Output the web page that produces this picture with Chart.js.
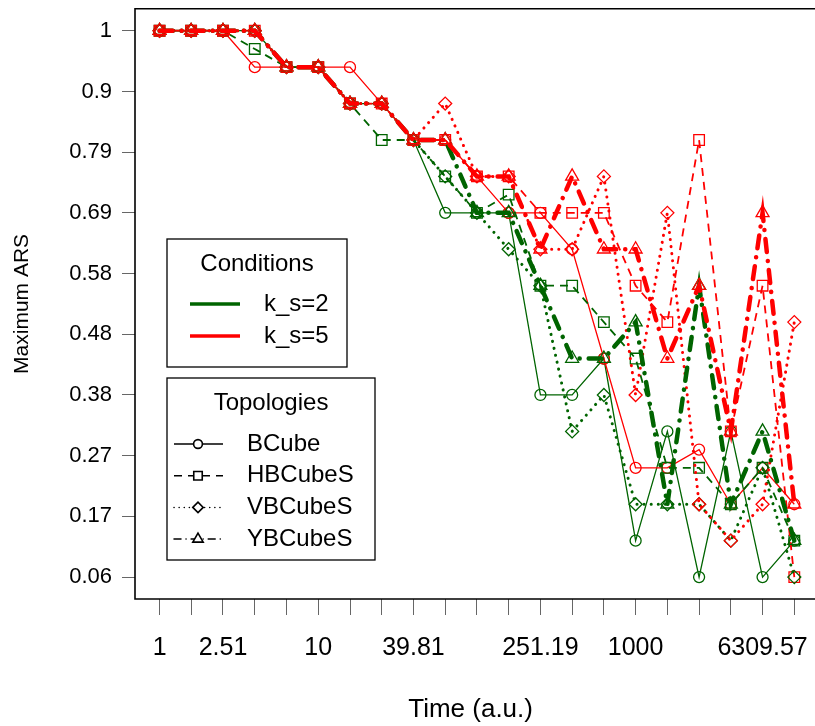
<!DOCTYPE html>
<html>
<head>
<meta charset="utf-8">
<script src="https://cdn.jsdelivr.net/npm/chart.js@4.4.0/dist/chart.umd.min.js"></script>
<style>
  body { margin: 0; background: #fff; }
  canvas { display: block; }
</style>
</head>
<body>
<canvas id="ars" width="815" height="726"></canvas>
<script>
// time points (log spaced, 10^(0.2k)) and the labels R kept on the axis
const times = [1, 1.58, 2.51, 3.98, 6.31, 10, 15.85, 25.12, 39.81, 63.1, 100,
  158.49, 251.19, 398.11, 630.96, 1000, 1584.89, 2511.89, 3981.07, 6309.57, 10000];
const timeLabels = ["1", "", "2.51", "", "", "10", "", "", "39.81", "", "", "",
  "251.19", "", "", "1000", "", "", "", "6309.57", ""];

const arsTicks = [0.0625, 0.1667, 0.2708, 0.375, 0.4792, 0.5833, 0.6875, 0.7917, 0.8958, 1];
const arsLabels = ["0.06", "0.17", "0.27", "0.38", "0.48", "0.58", "0.69", "0.79", "0.9", "1"];

// k_s=2
const ks2BCube = [1, 1, 1, 1, 0.9375, 0.9375, 0.875, 0.875, 0.8125, 0.6875, 0.6875,
  0.6875, 0.375, 0.375, 0.4375, 0.125, 0.3125, 0.0625, 0.3125, 0.0625, 0.125];
const ks2HBCubeS = [1, 1, 1, 0.96875, 0.9375, 0.9375, 0.875, 0.8125, 0.8125, 0.75, 0.6875,
  0.71875, 0.5625, 0.5625, 0.5, 0.4375, 0.25, 0.25, 0.1875, 0.25, 0.125];
const ks2VBCubeS = [1, 1, 1, 1, 0.9375, 0.9375, 0.875, 0.875, 0.8125, 0.75, 0.6875,
  0.625, 0.5625, 0.3125, 0.375, 0.1875, 0.1875, 0.1875, 0.125, 0.25, 0.0625];
const ks2YBCubeS = [1, 1, 1, 1, 0.9375, 0.9375, 0.875, 0.875, 0.8125, 0.8125, 0.6875,
  0.6875, 0.5625, 0.4375, 0.4375, 0.5, 0.1875, 0.5625, 0.1875, 0.3125, 0.125];

// k_s=5
const ks5BCube = [1, 1, 1, 0.9375, 0.9375, 0.9375, 0.9375, 0.875, 0.8125, 0.8125, 0.75,
  0.6875, 0.6875, 0.625, 0.4375, 0.25, 0.25, 0.28125, 0.1875, 0.25, 0.1875];
const ks5HBCubeS = [1, 1, 1, 1, 0.9375, 0.9375, 0.875, 0.875, 0.8125, 0.8125, 0.75,
  0.75, 0.6875, 0.6875, 0.6875, 0.5625, 0.5, 0.8125, 0.3125, 0.5625, 0.0625];
const ks5VBCubeS = [1, 1, 1, 1, 0.9375, 0.9375, 0.875, 0.875, 0.8125, 0.875, 0.75,
  0.75, 0.625, 0.625, 0.75, 0.375, 0.6875, 0.1875, 0.125, 0.1875, 0.5];
const ks5YBCubeS = [1, 1, 1, 1, 0.9375, 0.9375, 0.875, 0.875, 0.8125, 0.8125, 0.75,
  0.75, 0.625, 0.75, 0.625, 0.625, 0.4375, 0.5625, 0.3125, 0.6875, 0.1875];

const GREEN = "#006400";
const RED = "#ff0000";
const FONT = "'Liberation Sans', Arial, sans-serif";

const topo = {
  BCube:   { pointStyle: "circle",   radius: 5.5, dash: [],              width: 1.3, cap: "butt",  key: [] },
  HBCubeS: { pointStyle: "rect",     radius: 7.5, dash: [8, 6],          width: 1.8, cap: "butt",  key: [8, 6] },
  VBCubeS: { pointStyle: "rectRot",  radius: 6.5, dash: [0.1, 7],        width: 3,   cap: "round", key: [0.1, 5] },
  YBCubeS: { pointStyle: "triangle", radius: 7.5, dash: [13, 9, 0.1, 9], width: 4.5, cap: "round", key: [7, 5, 0.1, 5] },
};

// drawn in this sequence, last one on top
const series = [
  ["BCube", GREEN, ks2BCube], ["BCube", RED, ks5BCube],
  ["HBCubeS", GREEN, ks2HBCubeS], ["HBCubeS", RED, ks5HBCubeS],
  ["VBCubeS", GREEN, ks2VBCubeS], ["VBCubeS", RED, ks5VBCubeS],
  ["YBCubeS", GREEN, ks2YBCubeS], ["YBCubeS", RED, ks5YBCubeS],
];

const datasets = series.map(([name, color, values], i) => {
  const s = topo[name];
  return {
    label: name + (color === GREEN ? " k_s=2" : " k_s=5"),
    data: times.map((t, j) => ({ x: t, y: values[j] })),
    borderColor: color,
    borderWidth: s.width,
    borderDash: s.dash,
    borderCapStyle: s.cap,
    tension: 0,
    fill: false,
    pointStyle: s.pointStyle,
    pointRadius: s.radius,
    pointBorderWidth: 1.3,
    pointBorderColor: color,
    pointBackgroundColor: "rgba(0,0,0,0)",
    order: series.length - i,
  };
});

const frameAndLegends = {
  id: "frameAndLegends",
  afterDraw(chart) {
    const { ctx, chartArea: a } = chart;
    ctx.save();
    ctx.strokeStyle = "#000";
    ctx.lineWidth = 1.6;
    ctx.beginPath();
    ctx.moveTo(a.right + 10, a.top);
    ctx.lineTo(a.left, a.top);
    ctx.lineTo(a.left, a.bottom);
    ctx.lineTo(a.right + 10, a.bottom);
    ctx.stroke();

    // Conditions box
    ctx.fillStyle = "#fff";
    ctx.lineWidth = 1.3;
    ctx.fillRect(167, 239, 180, 128);
    ctx.strokeRect(167, 239, 180, 128);
    ctx.fillStyle = "#000";
    ctx.font = "24px " + FONT;
    ctx.textBaseline = "middle";
    ctx.textAlign = "center";
    ctx.fillText("Conditions", 257, 264);
    ctx.textAlign = "left";
    [[GREEN, "k_s=2", 304], [RED, "k_s=5", 336]].forEach(([c, t, y]) => {
      ctx.strokeStyle = c;
      ctx.lineWidth = 3.5;
      ctx.beginPath();
      ctx.moveTo(190, y);
      ctx.lineTo(240, y);
      ctx.stroke();
      ctx.fillText(t, 264, y);
    });

    // Topologies box
    ctx.fillStyle = "#fff";
    ctx.strokeStyle = "#000";
    ctx.lineWidth = 1.3;
    ctx.fillRect(167, 378, 208, 182);
    ctx.strokeRect(167, 378, 208, 182);
    ctx.fillStyle = "#000";
    ctx.textAlign = "center";
    ctx.fillText("Topologies", 271, 403);
    ctx.textAlign = "left";
    ["BCube", "HBCubeS", "VBCubeS", "YBCubeS"].forEach((name, i) => {
      const y = 444 + i * 31.7;
      const s = topo[name];
      ctx.save();
      ctx.strokeStyle = "#000";
      ctx.lineWidth = 1.5;
      ctx.lineCap = s.cap;
      ctx.setLineDash(s.key);
      ctx.beginPath();
      ctx.moveTo(174, y);
      ctx.lineTo(223, y);
      ctx.stroke();
      ctx.restore();
      ctx.save();
      ctx.strokeStyle = "#000";
      ctx.fillStyle = "#fff";
      ctx.lineWidth = 1.6;
      Chart.helpers.drawPoint(ctx, {
        pointStyle: s.pointStyle, radius: s.radius * 0.8, rotation: 0, borderWidth: 1.6,
      }, 198, y);
      ctx.restore();
      ctx.fillStyle = "#000";
      ctx.fillText(name, 247, y);
    });
    ctx.restore();
  },
};

new Chart(document.getElementById("ars"), {
  type: "line",
  data: { datasets },
  plugins: [frameAndLegends],
  options: {
    responsive: false,
    animation: false,
    devicePixelRatio: 1,
    layout: { padding: { top: 7, left: 0, right: 0, bottom: 0 } },
    plugins: { legend: { display: false }, tooltip: { enabled: false } },
    scales: {
      x: {
        type: "logarithmic",
        min: Math.pow(10, -0.148),
        max: Math.pow(10, 4.075),
        afterBuildTicks: (scale) => { scale.ticks = times.map((v) => ({ value: v })); },
        afterFit: (scale) => {
          scale.height = 127;
          scale.paddingLeft = 0;
          scale.paddingRight = 0;
        },
        grid: { drawOnChartArea: false, drawTicks: true, tickLength: 16, color: "#666", lineWidth: 1 },
        border: { display: false },
        ticks: {
          autoSkip: false, maxRotation: 0, minRotation: 0, padding: 18, color: "#000",
          font: { family: FONT, size: 25 },
          callback: (v) => { const i = times.indexOf(v); return i >= 0 ? timeLabels[i] : ""; },
        },
        title: {
          display: true, text: "Time (a.u.)", color: "#000",
          font: { family: FONT, size: 26 }, padding: { top: 0, bottom: 1 },
        },
      },
      y: {
        type: "linear",
        min: 0.0249,
        max: 1.0376,
        afterBuildTicks: (scale) => { scale.ticks = arsTicks.map((v) => ({ value: v })); },
        afterFit: (scale) => {
          scale.width = 135;
          scale.paddingTop = 0;
          scale.paddingBottom = 0;
        },
        grid: { drawOnChartArea: false, drawTicks: true, tickLength: 13, color: "#666", lineWidth: 1 },
        border: { display: false },
        ticks: {
          autoSkip: false, padding: 10, color: "#000",
          font: { family: FONT, size: 22 },
          callback: (v) => { const i = arsTicks.indexOf(v); return i >= 0 ? arsLabels[i] : ""; },
        },
        title: {
          display: true, text: "Maximum ARS", color: "#000",
          font: { family: FONT, size: 21 }, padding: { top: 10, bottom: 0 },
        },
      },
    },
  },
});
</script>
</body>
</html>
